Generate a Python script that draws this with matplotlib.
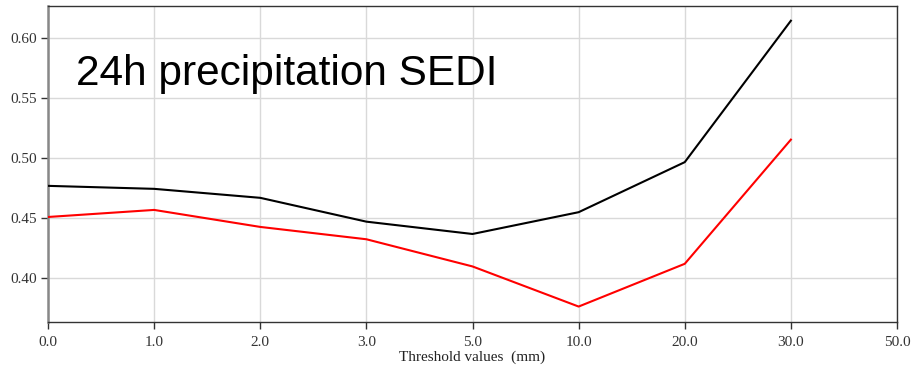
import matplotlib
matplotlib.use('Agg')
import matplotlib.pyplot as plt
import numpy as np

thresholds = ['0.0', '1.0', '2.0', '3.0', '5.0', '10.0', '20.0', '30.0', '50.0']
sedi_black = [0.4768, 0.4743, 0.4668, 0.4469, 0.4366, 0.4548, 0.4966, 0.6147]
sedi_red = [0.4508, 0.4567, 0.4425, 0.4322, 0.4095, 0.3760, 0.4117, 0.5154]
y_ticks = [0.40, 0.45, 0.50, 0.55, 0.60]

fig = plt.figure(figsize=(9.13, 3.69), dpi=100)
ax = fig.add_axes([48 / 913, 1 - 322 / 369, (897 - 48) / 913, (322 - 6) / 369])

x = np.arange(len(thresholds))
ax.plot(x[:len(sedi_black)], sedi_black, color='black', lw=1.5, zorder=3)
ax.plot(x[:len(sedi_red)], sedi_red, color='red', lw=1.5, zorder=3)

ax.set_xlim(0, len(thresholds) - 1)
ax.set_ylim(0.3631, 0.627)
ax.set_xticks(x)
ax.set_xticklabels(thresholds)
ax.set_yticks(y_ticks)
ax.set_yticklabels(['%.2f' % v for v in y_ticks])
ax.grid(True, color='#d9d9d9', lw=1)
ax.set_axisbelow(True)

for lab in ax.get_xticklabels() + ax.get_yticklabels():
    lab.set_family('Liberation Serif')
    lab.set_fontsize(11)
    lab.set_color('#333333')
ax.tick_params(length=5, width=1, color='#333333')
ax.tick_params(axis='x', pad=5)
ax.tick_params(axis='y', pad=3)

ax.spines['left'].set_color('#888888')
ax.spines['left'].set_linewidth(1.8)
for s in ['top', 'right', 'bottom']:
    ax.spines[s].set_color('#333333')
    ax.spines[s].set_linewidth(1)

ax.set_xlabel('Threshold values  (mm)', family='Liberation Serif', fontsize=11,
              color='#222222', labelpad=1)

fig.text(76 / 913, 1 - 85 / 369, '24h precipitation SEDI', family='Liberation Sans',
         fontsize=30.5, color='black', va='baseline', ha='left')

fig.savefig('out.png', dpi=100)
